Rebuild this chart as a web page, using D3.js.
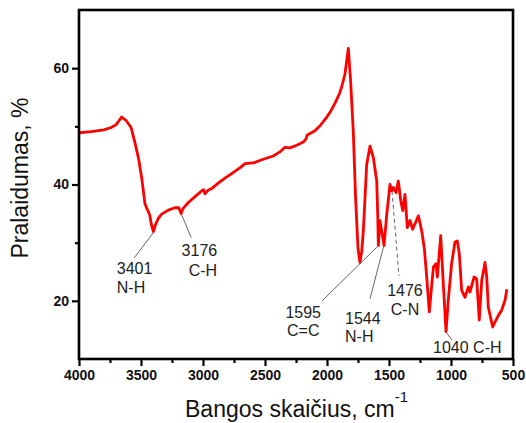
<!DOCTYPE html>
<html>
<head>
<meta charset="utf-8">
<script src="https://cdn.jsdelivr.net/npm/d3@7"></script>
<style>
  body { margin: 0; background: #fff; }
  svg { display: block; font-family: Arial, "Liberation Sans", sans-serif; }
</style>
</head>
<body>
<svg id="chart" width="526" height="423"></svg>
<script>
// IR spectrum
const wavenumber = [4000, 3900, 3800, 3740, 3700, 3656, 3620, 3580, 3548, 3520, 3494, 3468, 3445, 3430, 3415, 3400, 3385, 3360, 3333, 3280, 3226, 3195, 3177, 3160, 3118, 3060, 3010, 2995, 2984, 2960, 2930, 2880, 2823, 2760, 2700, 2661, 2594, 2520, 2433, 2380, 2339, 2298, 2240, 2191, 2170, 2159, 2100, 2056, 2008, 1970, 1935, 1900, 1881, 1855, 1828, 1810, 1788, 1770, 1750, 1734, 1720, 1707, 1680, 1653, 1626, 1599, 1591, 1586, 1573, 1559, 1540, 1518, 1492, 1478, 1465, 1443, 1425, 1405, 1389, 1371, 1352, 1330, 1309, 1285, 1263, 1236, 1215, 1196, 1175, 1142, 1121, 1110, 1083, 1062, 1040, 1022, 995, 968, 949, 933, 914, 887, 860, 847, 814, 793, 772, 752, 726, 712, 699, 664, 618, 591, 564, 550]
const transmittance = [48.9, 49.1, 49.4, 49.8, 50.3, 51.6, 51.0, 49.8, 47.1, 44.5, 41.1, 36.7, 35.5, 34.8, 33.0, 31.9, 33.0, 34.2, 34.9, 35.6, 36.0, 36.0, 35.0, 35.9, 36.9, 38.0, 38.9, 39.1, 38.4, 39.0, 39.3, 40.2, 41.1, 42.0, 42.9, 43.6, 43.7, 44.3, 44.9, 45.6, 46.4, 46.3, 46.8, 47.3, 47.8, 48.5, 49.2, 50.1, 51.4, 52.6, 54.0, 55.6, 56.8, 59.0, 63.4, 58.0, 49.1, 38.0, 29.0, 26.6, 28.5, 32.0, 43.4, 46.6, 44.6, 40.6, 34.9, 29.5, 33.8, 32.0, 29.5, 34.9, 40.0, 38.9, 39.5, 38.6, 40.6, 37.2, 35.5, 38.3, 32.6, 33.8, 32.3, 33.5, 34.6, 32.0, 29.0, 24.1, 18.1, 25.8, 26.4, 24.1, 31.2, 22.9, 14.7, 20.1, 26.4, 30.1, 30.3, 28.1, 21.8, 20.6, 22.4, 21.5, 24.1, 23.8, 16.7, 23.5, 26.6, 24.1, 18.9, 15.5, 17.5, 18.4, 20.1, 22.0]

const xTicks = [4000, 3500, 3000, 2500, 2000, 1500, 1000, 500]
const xMinor = [3750, 3250, 2750, 2250, 1750, 1250, 750]
const yTicks = [20, 40, 60]
const yMinor = [30, 50]

// band assignments
const peakWn = [3401, 3176, 1595, 1544, 1476, 1040]
const peakT = [31.7, 35.0, 29.3, 29.3, 38.9, 14.6]
const peakGroup = ['N-H', 'C-H', 'C=C', 'N-H', 'C-N', 'C-H']

const W = 526, H = 423
const margin = { left: 79, right: 13, top: 10, bottom: 64 }

const svg = d3.select('#chart')
svg.append('rect').attr('width', W).attr('height', H).attr('fill', '#fff')

const x = d3.scaleLinear([4000, 500], [margin.left, W - margin.right])
const y = d3.scaleLinear([10, 70], [H - margin.bottom, margin.top])

const axisColor = '#000'
const fmt = d3.format('d')

// major / minor ticks outward
const xAxis = d3.axisBottom(x).tickValues(xTicks).tickFormat(fmt).tickSize(7).tickPadding(4)
const xAxisMinor = d3.axisBottom(x).tickValues(xMinor).tickFormat('').tickSize(4)
const yAxis = d3.axisLeft(y).tickValues(yTicks).tickFormat(fmt).tickSize(7).tickPadding(3)
const yAxisMinor = d3.axisLeft(y).tickValues(yMinor).tickFormat('').tickSize(4)

function styleAxis (g) {
  g.select('.domain').remove()
  g.selectAll('line').attr('stroke', axisColor).attr('stroke-width', 2.2)
  g.selectAll('text').attr('fill', '#111').attr('font-size', 14).attr('font-weight', 'bold')
    .attr('font-family', 'Arial, "Liberation Sans", sans-serif')
}

svg.append('g').attr('transform', `translate(0,${y(10)})`).call(xAxis).call(styleAxis)
svg.append('g').attr('transform', `translate(0,${y(10)})`).call(xAxisMinor).call(styleAxis)
svg.append('g').attr('transform', `translate(${x(4000)},0)`).call(yAxis).call(styleAxis)
svg.append('g').attr('transform', `translate(${x(4000)},0)`).call(yAxisMinor).call(styleAxis)

// spectrum
const line = d3.line().x((d, i) => x(wavenumber[i])).y(d => y(d))
svg.append('path')
  .datum(transmittance)
  .attr('d', line)
  .attr('fill', 'none')
  .attr('stroke', '#ff0000')
  .attr('stroke-width', 2.8)
  .attr('stroke-linejoin', 'round')

// frame
svg.append('rect')
  .attr('x', x(4000)).attr('y', y(70))
  .attr('width', x(500) - x(4000)).attr('height', y(10) - y(70))
  .attr('fill', 'none').attr('stroke', axisColor).attr('stroke-width', 2.6)

// annotation layout: leader end (lx, ly), text pos (tx, ty), anchor
const labelLayout = [
  { lx: -19, ly: 25, tx: -36.5, ty: [41, 60], anchor: 'start', dash: null },
  { lx: 10, ly: 24, tx: 36, ty: [42, 62], anchor: 'end', dash: null },
  { lx: -55, ly: 54, tx: -74, ty: [71, 89], anchor: 'middle', dash: null },
  { lx: -13.5, ly: 52, tx: -38.5, ty: [77, 95], anchor: 'start', dash: null },
  { lx: 7, ly: 85, tx: 13, ty: [105, 124], anchor: 'middle', dash: '4,3' },
  { lx: 6, ly: 8, tx: -13, ty: [21], anchor: 'start', dash: null }
]

const ann = svg.append('g')
peakWn.forEach((wn, i) => {
  const px = x(wn), py = y(peakT[i])
  const L = labelLayout[i]
  ann.append('line')
    .attr('x1', px).attr('y1', py)
    .attr('x2', px + L.lx).attr('y2', py + L.ly)
    .attr('stroke', '#555').attr('stroke-width', 0.9)
    .attr('stroke-dasharray', L.dash)
  const lines = L.ty.length === 1 ? [`${wn} ${peakGroup[i]}`] : [String(wn), peakGroup[i]]
  lines.forEach((t, j) => {
    ann.append('text')
      .attr('x', px + L.tx).attr('y', py + L.ty[j])
      .attr('text-anchor', L.anchor)
      .attr('font-size', 16)
      .attr('fill', '#222')
      .text(t)
  })
})

// axis titles
svg.append('text')
  .attr('transform', 'translate(28,178) rotate(-90)')
  .attr('text-anchor', 'middle')
  .attr('font-size', 23)
  .attr('fill', '#111')
  .text('Pralaidumas, %')

const xt = svg.append('text')
  .attr('x', 185).attr('y', 417)
  .attr('font-size', 23)
  .attr('fill', '#111')
xt.append('tspan').text('Bangos skaičius, cm')
xt.append('tspan').attr('font-size', 15).attr('dy', -15).text('-1')
</script>
</body>
</html>
